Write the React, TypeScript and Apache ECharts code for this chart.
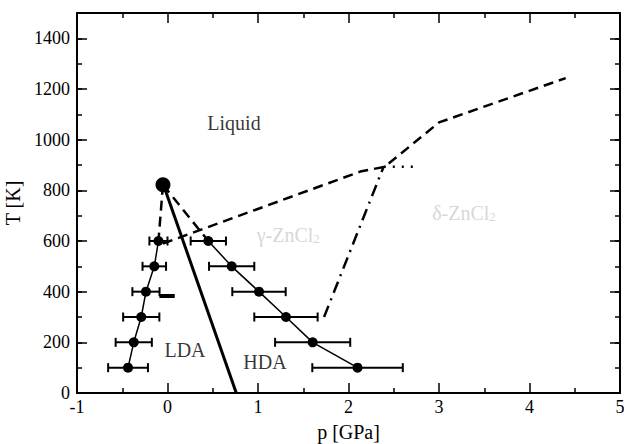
import React, { useEffect, useRef } from "react";
import * as echarts from "echarts";

// LDA branch
const ldaT = [600, 500, 400, 300, 200, 100];
const ldaP = [-0.1, -0.146, -0.238, -0.29, -0.373, -0.436];
const ldaErr = [0.1, 0.13, 0.15, 0.2, 0.2, 0.22];
// HDA branch
const hdaT = [600, 500, 400, 300, 200, 100];
const hdaP = [0.451, 0.709, 1.011, 1.309, 1.604, 2.1];
const hdaErr = [0.195, 0.25, 0.295, 0.35, 0.415, 0.5];
// critical point
const cpP = -0.05;
const cpT = 822;
// liquid / crystal boundary (dashed)
const boundaryP = [-0.05, 2.13, 2.4, 3.0, 4.4];
const boundaryT = [590, 874, 893, 1068, 1243];
// gamma / delta boundary (dash-dot)
const gdP = [1.73, 2.39];
const gdT = [300, 895];
// dotted
const dotP = [2.39, 2.75];
const dotT = [893, 893];
// thick LDA/HDA boundary
const thickP = [-0.045, 0.76];
const thickT = [822, 0];
// short bar
const barP = [-0.09, 0.08];
const barT = [383, 383];

const xTicks = [-1, 0, 1, 2, 3, 4, 5];
const yTickLabels = [0, 200, 400, 600, 800, 1000, 1200, 1400];

const FONT = "'Liberation Serif', 'Times New Roman', serif";

export default function App() {
  const ref = useRef<HTMLDivElement>(null);
  useEffect(() => {
    if (!ref.current) return;
    const chart = echarts.init(ref.current, undefined, { renderer: "svg" });
    const pair = (ps: number[], ts: number[]) => ps.map((p, i) => [p, ts[i]]);
    const errData = (ps: number[], ts: number[], es: number[]) =>
      ps.map((p, i) => [p - es[i], p + es[i], ts[i]]);
    const errSeries = (data: number[][]) => ({
      type: "custom",
      xAxisIndex: 0,
      yAxisIndex: 0,
      silent: true,
      z: 3,
      encode: { x: [0, 1], y: 2 },
      data,
      renderItem: (params: any, api: any) => {
        const a = api.coord([api.value(0), api.value(2)]);
        const b = api.coord([api.value(1), api.value(2)]);
        const h = 4.5;
        const st = { stroke: "#000", lineWidth: 2 };
        return {
          type: "group",
          children: [
            { type: "line", shape: { x1: a[0], y1: a[1], x2: b[0], y2: b[1] }, style: st },
            { type: "line", shape: { x1: a[0], y1: a[1] - h, x2: a[0], y2: a[1] + h }, style: st },
            { type: "line", shape: { x1: b[0], y1: b[1] - h, x2: b[0], y2: b[1] + h }, style: st },
          ],
        };
      },
    });
    const lineSeries = (data: number[][], width: number, type: any) => ({
      type: "line",
      data,
      symbol: "none",
      silent: true,
      z: 2,
      lineStyle: { color: "#000", width, type },
    });
    const textSeries = (p: number, t: number, text: string, color: string, rich?: any) => ({
      type: "scatter",
      data: [[p, t]],
      symbolSize: 1,
      silent: true,
      itemStyle: { color: "rgba(0,0,0,0)" },
      label: {
        show: true,
        position: "inside",
        formatter: text,
        color,
        fontFamily: FONT,
        fontSize: 20,
        rich,
      },
    });
    const subRich = (color: string) => ({
      a: { fontFamily: FONT, fontSize: 20, lineHeight: 20, color, verticalAlign: "top" },
      s: {
        fontFamily: FONT,
        fontSize: 13,
        lineHeight: 13,
        color,
        verticalAlign: "bottom",
        padding: [18, 0, 0, 0],
      },
    });
    const axisCommon = {
      min: -1,
      max: 5,
      interval: 1,
      axisLine: { show: true, onZero: false, lineStyle: { color: "#000", width: 2 } },
      axisTick: { show: true, inside: true, length: 10, lineStyle: { color: "#000", width: 1.5 } },
      minorTick: { show: true, splitNumber: 2, length: 5, lineStyle: { color: "#000", width: 1.5 } },
      splitLine: { show: false },
      minorSplitLine: { show: false },
    };
    const yCommon = (major: boolean) => ({
      type: "value",
      min: 0,
      max: 1500,
      interval: major ? 200 : 100,
      axisLine: { show: major, onZero: false, lineStyle: { color: "#000", width: 2 } },
      axisTick: {
        show: true,
        inside: true,
        length: major ? 10 : 5,
        lineStyle: { color: "#000", width: 1.5 },
      },
      splitLine: { show: false },
    });
    chart.setOption({
      animation: false,
      backgroundColor: "#fff",
      textStyle: { fontFamily: FONT },
      grid: { left: 77, right: 4, top: 13, bottom: 51, outerBoundsMode: "none", containLabel: false },
      xAxis: [
        {
          type: "value",
          position: "bottom",
          ...axisCommon,
          name: "p [GPa]",
          nameLocation: "middle",
          nameGap: 29,
          nameTextStyle: { fontFamily: FONT, fontSize: 20, color: "#000" },
          axisLabel: {
            show: true,
            margin: 5,
            fontFamily: FONT,
            fontSize: 18,
            color: "#000",
            formatter: (v: number) => (xTicks.includes(v) ? String(v) : ""),
          },
        },
        {
          type: "value",
          position: "top",
          ...axisCommon,
          axisLabel: { show: false },
        },
      ],
      yAxis: [
        {
          ...yCommon(true),
          position: "left",
          name: "T [K]",
          nameLocation: "middle",
          nameGap: 48,
          nameTextStyle: { fontFamily: FONT, fontSize: 20, color: "#000" },
          axisLabel: {
            show: true,
            margin: 7,
            fontFamily: FONT,
            fontSize: 18,
            color: "#000",
            showMaxLabel: false,
            formatter: (v: number) => (yTickLabels.includes(v) ? String(v) : ""),
          },
        },
        { ...yCommon(true), position: "right", axisLabel: { show: false } },
        { ...yCommon(false), position: "left", axisLabel: { show: false } },
        { ...yCommon(false), position: "right", axisLabel: { show: false } },
      ],
      series: [
        errSeries(errData(ldaP, ldaT, ldaErr)),
        errSeries(errData(hdaP, hdaT, hdaErr)),
        lineSeries(pair(boundaryP, boundaryT), 2.5, [10, 6]),
        lineSeries([[cpP, cpT], [ldaP[0], ldaT[0]]], 2.5, [10, 6]),
        lineSeries([[cpP, cpT], [hdaP[0], hdaT[0]]], 2.5, [10, 6]),
        lineSeries(pair(gdP, gdT), 2.5, [12, 6, 2, 6]),
        lineSeries(pair(dotP, dotT), 2.5, [2, 7]),
        lineSeries(pair(thickP, thickT), 3, "solid"),
        lineSeries(pair(barP, barT), 4, "solid"),
        {
          type: "line",
          data: pair(ldaP, ldaT),
          symbol: "circle",
          symbolSize: 10,
          showSymbol: true,
          silent: true,
          z: 4,
          itemStyle: { color: "#000", opacity: 1 },
          lineStyle: { color: "#000", width: 1.5 },
        },
        {
          type: "line",
          data: pair(hdaP, hdaT),
          symbol: "circle",
          symbolSize: 10,
          showSymbol: true,
          silent: true,
          z: 4,
          itemStyle: { color: "#000", opacity: 1 },
          lineStyle: { color: "#000", width: 1.5 },
        },
        {
          type: "scatter",
          data: [[cpP, cpT]],
          symbol: "circle",
          symbolSize: 15,
          silent: true,
          z: 5,
          itemStyle: { color: "#000", opacity: 1 },
        },
        textSeries(0.735, 1065, "Liquid", "#000"),
        textSeries(0.193, 170, "LDA", "#000"),
        textSeries(1.077, 124, "HDA", "#000"),
        textSeries(1.335, 622, "{a|γ-ZnCl}{s|2}", "#cccccc", subRich("#cccccc")),
        textSeries(3.276, 709, "{a|δ-ZnCl}{s|2}", "#cccccc", subRich("#cccccc")),
      ],
    } as any);
    return () => chart.dispose();
  }, []);
  return (
    <div
      ref={ref}
      style={{ position: "fixed", left: 0, top: 0, width: 624, height: 444, background: "#fff" }}
    />
  );
}
